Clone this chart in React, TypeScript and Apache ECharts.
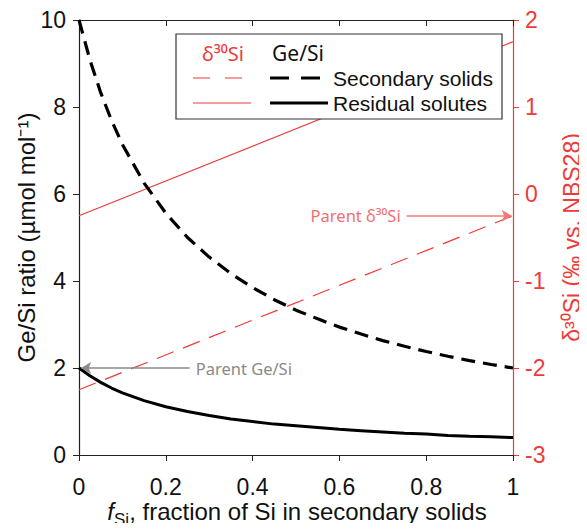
import React, { useEffect, useRef } from "react";
import * as echarts from "echarts";

// f_Si values
const fSi = [0, 0.025, 0.05, 0.075, 0.1, 0.15, 0.2, 0.25, 0.3, 0.35, 0.4, 0.45, 0.5, 0.55, 0.6, 0.65, 0.7, 0.75, 0.8, 0.85, 0.9, 0.95, 1];
// Ge/Si of secondary solids (µmol/mol)
const geSiSolids = [10, 9.09, 8.33, 7.69, 7.14, 6.25, 5.56, 5.0, 4.55, 4.17, 3.85, 3.57, 3.33, 3.13, 2.94, 2.78, 2.63, 2.5, 2.38, 2.27, 2.17, 2.08, 2.0];
// Ge/Si of residual solutes
const geSiResidual = [2, 1.82, 1.67, 1.54, 1.43, 1.25, 1.11, 1.0, 0.91, 0.83, 0.77, 0.71, 0.67, 0.63, 0.59, 0.56, 0.53, 0.5, 0.48, 0.45, 0.43, 0.42, 0.4];
// δ30Si lines (endpoints at f = 0 and f = 1)
const d30Ends = [0, 1];
const d30Solids = [-2.25, -0.25];
const d30Residual = [-0.25, 1.75];
// parent values
const parentGeSi = 2;
const parentD30 = -0.25;

const RED = "#f03a3a";
const FONT = "Liberation Sans, Arial, sans-serif";
const NOTE_FONT = "Noto Sans, sans-serif";

export default function App() {
  const ref = useRef<HTMLDivElement>(null);
  useEffect(() => {
    if (!ref.current) return;
    const chart = echarts.init(ref.current, null, { renderer: "svg" });
    const zip = (xs: number[], ys: number[]) => xs.map((x, i) => [x, ys[i]]);
    const option: any = {
      animation: false,
      backgroundColor: "#fff",
      textStyle: { fontFamily: FONT },
      grid: { left: 79, right: 74, top: 20, bottom: 76, containLabel: false, outerBoundsMode: "none" },
      xAxis: [
        {
          type: "value",
          min: 0,
          max: 1,
          interval: 0.2,
          position: "bottom",
          axisLine: { onZero: false, lineStyle: { color: "#222", width: 1.2 } },
          axisTick: { length: 6, inside: false, lineStyle: { color: "#222" } },
          axisLabel: {
            fontSize: 23,
            color: "#111",
            margin: 20,
            formatter: (v: number) => String(Number(v.toFixed(1))),
          },
          splitLine: { show: false },
        },
        {
          type: "value",
          min: 0,
          max: 1,
          interval: 0.2,
          position: "top",
          axisLine: { onZero: false, lineStyle: { color: "#222", width: 1.2 } },
          axisTick: { inside: true, length: 6, lineStyle: { color: "#222" } },
          axisLabel: { show: false },
          splitLine: { show: false },
        },
      ],
      yAxis: [
        {
          type: "value",
          min: 0,
          max: 10,
          interval: 2,
          position: "left",
          name: "Ge/Si ratio (µmol mol⁻¹)",
          nameLocation: "middle",
          nameGap: 41,
          nameMoveOverlap: false,
          nameTextStyle: { fontSize: 24, color: "#111", fontFamily: FONT },
          axisLine: { show: true, onZero: false, lineStyle: { color: "#222", width: 1.2 } },
          axisTick: { show: true, length: 6, lineStyle: { color: "#222" } },
          axisLabel: { fontSize: 23, color: "#111", margin: 13 },
          splitLine: { show: false },
        },
        {
          type: "value",
          min: -3,
          max: 2,
          interval: 1,
          position: "right",
          name: "δ³⁰Si (‰ vs. NBS28)",
          nameLocation: "middle",
          nameGap: 47,
          nameRotate: 90,
          nameMoveOverlap: false,
          nameTextStyle: { fontSize: 23, color: RED, fontFamily: FONT },
          axisLine: { show: true, onZero: false, lineStyle: { color: RED, width: 1.2 } },
          axisTick: { show: true, length: 6, lineStyle: { color: RED } },
          axisLabel: { fontSize: 23, color: RED, margin: 12 },
          splitLine: { show: false },
        },
      ],
      series: [
        {
          type: "line",
          xAxisIndex: 0,
          yAxisIndex: 0,
          data: zip(fSi, geSiSolids),
          showSymbol: false,
          smooth: false,
          lineStyle: { color: "#000", width: 3.2, type: [14, 8] },
          z: 3,
        },
        {
          type: "line",
          xAxisIndex: 0,
          yAxisIndex: 0,
          data: zip(fSi, geSiResidual),
          showSymbol: false,
          smooth: false,
          lineStyle: { color: "#000", width: 3 },
          z: 3,
          markLine: {
            silent: true,
            symbol: ["none", "arrow"],
            symbolSize: [9, 10],
            lineStyle: { color: "#8a8a8a", width: 1.5, type: "solid" },
            label: {
              show: true,
              position: "start",
              distance: 6,
              formatter: "Parent Ge/Si",
              color: "#8a8a8a",
              fontSize: 16.5,
              fontFamily: NOTE_FONT,
            },
            data: [[{ coord: [0.255, parentGeSi] }, { coord: [0.005, parentGeSi] }]],
          },
        },
        {
          type: "line",
          xAxisIndex: 0,
          yAxisIndex: 1,
          data: zip(d30Ends, d30Solids),
          showSymbol: false,
          lineStyle: { color: RED, width: 1.2, type: [18, 10] },
          z: 2,
          markLine: {
            silent: true,
            symbol: ["none", "arrow"],
            symbolSize: [9, 10],
            lineStyle: { color: "#f07a7a", width: 1.5, type: "solid" },
            label: {
              show: true,
              position: "start",
              distance: 6,
              formatter: "Parent δ³⁰Si",
              color: "#f07070",
              fontSize: 16.5,
              fontFamily: NOTE_FONT,
            },
            data: [[{ coord: [0.755, parentD30] }, { coord: [0.997, parentD30] }]],
          },
        },
        {
          type: "line",
          xAxisIndex: 0,
          yAxisIndex: 1,
          data: zip(d30Ends, d30Residual),
          showSymbol: false,
          lineStyle: { color: RED, width: 1.2 },
          z: 2,
        },
      ],
      graphic: [
        {
          type: "text",
          x: 297,
          y: 511,
          style: {
            text: "{f|f}{sub|Si}{t|, fraction of Si in secondary solids}",
            align: "center",
            verticalAlign: "middle",
            rich: {
              f: { fontStyle: "italic", fontSize: 24, fontFamily: FONT, fill: "#111" },
              sub: { fontSize: 17, fontFamily: FONT, fill: "#111", padding: [16, 0, 0, 0] },
              t: { fontSize: 24, fontFamily: FONT, fill: "#111" },
            },
          },
          z: 11,
        },
        {
          type: "rect",
          shape: { x: 176, y: 34, width: 326, height: 85 },
          style: { fill: "#fff", stroke: "#333", lineWidth: 1.2 },
          z: 10,
        },
        {
          type: "text",
          x: 202,
          y: 53,
          style: { text: "δ³⁰Si", fill: RED, fontSize: 20, fontFamily: NOTE_FONT, verticalAlign: "middle" },
          z: 11,
        },
        {
          type: "text",
          x: 272,
          y: 53,
          style: { text: "Ge/Si", fill: "#111", fontSize: 21, fontFamily: NOTE_FONT, verticalAlign: "middle" },
          z: 11,
        },
        {
          type: "line",
          shape: { x1: 193, y1: 78, x2: 244, y2: 78 },
          style: { stroke: RED, lineWidth: 1.2, lineDash: [17, 15] },
          z: 11,
        },
        {
          type: "line",
          shape: { x1: 270, y1: 78, x2: 321, y2: 78 },
          style: { stroke: "#000", lineWidth: 3, lineDash: [19, 12] },
          z: 11,
        },
        {
          type: "text",
          x: 333,
          y: 78,
          style: { text: "Secondary solids", fill: "#111", fontSize: 21, fontFamily: FONT, verticalAlign: "middle" },
          z: 11,
        },
        {
          type: "line",
          shape: { x1: 193, y1: 103, x2: 251, y2: 103 },
          style: { stroke: RED, lineWidth: 1.2 },
          z: 11,
        },
        {
          type: "line",
          shape: { x1: 270, y1: 103, x2: 328, y2: 103 },
          style: { stroke: "#000", lineWidth: 3 },
          z: 11,
        },
        {
          type: "text",
          x: 333,
          y: 103,
          style: { text: "Residual solutes", fill: "#111", fontSize: 21, fontFamily: FONT, verticalAlign: "middle" },
          z: 11,
        },
      ],
    };
    chart.setOption(option);
    return () => chart.dispose();
  }, []);
  return <div ref={ref} style={{ width: 587, height: 531, margin: -8 }} />;
}
